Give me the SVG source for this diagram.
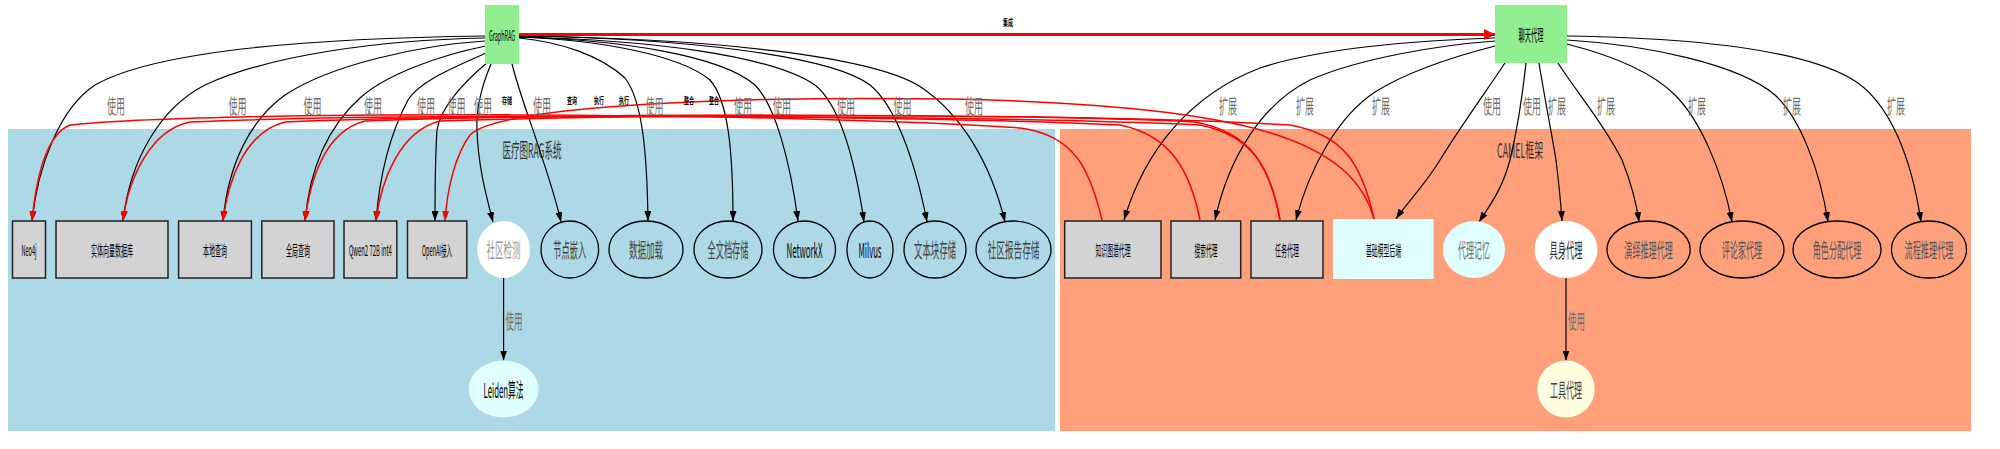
<svg xmlns="http://www.w3.org/2000/svg" width="2000" height="449" viewBox="0 0 2000 449">
<style>
text{font-family:"Noto Sans CJK SC","Liberation Sans",sans-serif;text-anchor:middle;dominant-baseline:central}
.box{fill:#D3D3D3;stroke:#222;stroke-width:1.5}
.ell{fill:none;stroke:#000;stroke-width:1.3}
.top{fill:#90EE90;stroke:none}
.bl{font-size:15px;fill:#000}
.el{font-size:20px;fill:#444}
.lab{font-size:20px;fill:#707070}
.sm{font-size:9px;font-weight:bold;fill:#000}
.cl{font-size:20px;fill:#333}
.e{fill:none;stroke:#000;stroke-width:1.2;marker-end:url(#ab)}
.r{fill:none;stroke:#f00;stroke-width:1.5;marker-end:url(#ar)}
</style>
<defs>
<marker id="ab" viewBox="0 0 10 7" refX="10" refY="3.5" markerWidth="10" markerHeight="7" markerUnits="userSpaceOnUse" orient="auto"><path d="M0,0 L10,3.5 L0,7 z" fill="#000"/></marker>
<marker id="ar" viewBox="0 0 10 7" refX="10" refY="3.5" markerWidth="10" markerHeight="7" markerUnits="userSpaceOnUse" orient="auto"><path d="M0,0 L10,3.5 L0,7 z" fill="#f00"/></marker>
<marker id="arb" viewBox="0 0 10 10" refX="10" refY="5" markerWidth="11" markerHeight="11" markerUnits="userSpaceOnUse" orient="auto"><path d="M0,0 L10,5 L0,10 z" fill="#f00"/></marker>
</defs>
<rect width="2000" height="449" fill="#fff"/>
<g id="cluster_medical">
<rect x="8" y="129" width="1047" height="302" fill="#ADD8E6"/>
<text class="cl" x="532" y="149" textLength="59" lengthAdjust="spacingAndGlyphs">医疗图RAG系统</text>
</g>
<g id="cluster_camel">
<rect x="1060" y="129" width="911" height="302" fill="#FFA07A"/>
<text class="cl" x="1520" y="149" textLength="46" lengthAdjust="spacingAndGlyphs">CAMEL框架</text>
</g>
<g id="connectors">
<path class="e" d="M485,36 C330,38 160,48 95,85 C60,108 38,165 32,221"/>
<path class="e" d="M485,38 C380,40 270,55 205,85 C160,108 130,160 123,221"/>
<path class="e" d="M485,41 C420,45 330,65 285,95 C250,120 228,165 223,221"/>
<path class="e" d="M486,46 C440,55 385,75 360,98 C330,125 310,165 305,221"/>
<path class="e" d="M488,52 C460,65 420,80 408,100 C392,130 380,170 376,221"/>
<path class="e" d="M488,62 C460,85 440,110 437,130 C435,160 435,190 435,221"/>
<path class="e" d="M491,64 C480,90 476,110 477,130 C478,165 486,195 493,222"/>
<path class="e" d="M512,64 C520,95 530,120 538,145 C546,170 555,195 561,222"/>
<path class="e" d="M519,38 C560,42 600,55 625,78 C642,100 647,150 648,221"/>
<path class="e" d="M519,37 C600,40 680,55 710,80 C728,100 733,150 733,221"/>
<path class="e" d="M519,37 C620,40 720,55 755,85 C775,105 790,160 798,221"/>
<path class="e" d="M519,37 C650,40 770,55 815,85 C840,105 855,160 864,222"/>
<path class="e" d="M519,36 C680,38 830,55 870,85 C895,105 915,160 927,222"/>
<path class="e" d="M519,36 C700,38 880,55 925,90 C960,115 990,160 1005,222"/>
<path class="e" d="M1495,38 C1420,40 1320,48 1260,68 C1190,95 1145,150 1124,220"/>
<path class="e" d="M1495,41 C1440,45 1360,58 1310,80 C1260,105 1228,160 1215,220"/>
<path class="e" d="M1495,46 C1460,55 1410,70 1375,92 C1340,115 1310,165 1296,220"/>
<path class="e" d="M1505,63 C1480,100 1455,135 1440,160 C1425,185 1405,205 1396,219"/>
<path class="e" d="M1526,63 C1522,100 1516,135 1510,160 C1502,190 1490,205 1479,222"/>
<path class="e" d="M1539,63 C1545,100 1552,135 1556,160 C1559,185 1561,205 1562,221"/>
<path class="e" d="M1558,63 C1575,90 1605,125 1622,160 C1630,180 1636,200 1639,222"/>
<path class="e" d="M1567,44 C1610,55 1650,70 1675,95 C1700,120 1722,170 1732,222"/>
<path class="e" d="M1567,40 C1650,45 1740,65 1775,95 C1800,118 1820,170 1828,222"/>
<path class="e" d="M1567,36 C1700,38 1800,50 1850,78 C1890,100 1912,160 1921,222"/>
<path class="e" d="M503.6,278 L503.6,360.5"/>
<path class="e" d="M1566,278 L1566,360.5"/>
<path class="r" d="M1102,220 C1090,170 1075,135 1020,128 C800,112 200,110 70,125 C45,135 36,180 32,221"/>
<path class="r" d="M1200,220 C1190,170 1170,135 1120,125 C900,115 400,113 190,122 C150,130 128,180 123,221"/>
<path class="r" d="M1280,220 C1270,165 1250,135 1200,125 C1000,116 500,113 285,122 C245,132 228,180 223,221"/>
<path class="r" d="M1280,220 C1270,165 1250,132 1195,122 C1000,113 600,113 365,121 C325,131 310,180 305,221"/>
<path class="r" d="M1374,219 C1362,165 1345,135 1290,125 C1100,114 700,113 440,121 C400,131 381,180 376,221"/>
<path class="r" d="M1374,219 C1352,140 1250,105 950,99 C720,96 500,106 470,135 C455,155 447,190 445,221"/>
<path d="M519,34.5 L1495,34.5" fill="none" stroke="#f00" stroke-width="3" marker-end="url(#arb)"/>
<text class="lab" x="116" y="105" textLength="18" lengthAdjust="spacingAndGlyphs">使用</text>
<text class="lab" x="237.5" y="105" textLength="18" lengthAdjust="spacingAndGlyphs">使用</text>
<text class="lab" x="312.5" y="105" textLength="18" lengthAdjust="spacingAndGlyphs">使用</text>
<text class="lab" x="373" y="105" textLength="18" lengthAdjust="spacingAndGlyphs">使用</text>
<text class="lab" x="426" y="105" textLength="18" lengthAdjust="spacingAndGlyphs">使用</text>
<text class="lab" x="456.5" y="105" textLength="18" lengthAdjust="spacingAndGlyphs">使用</text>
<text class="lab" x="483" y="105" textLength="18" lengthAdjust="spacingAndGlyphs">使用</text>
<text class="lab" x="542" y="105" textLength="18" lengthAdjust="spacingAndGlyphs">使用</text>
<text class="lab" x="654.5" y="105" textLength="18" lengthAdjust="spacingAndGlyphs">使用</text>
<text class="lab" x="743" y="105" textLength="18" lengthAdjust="spacingAndGlyphs">使用</text>
<text class="lab" x="782" y="105" textLength="18" lengthAdjust="spacingAndGlyphs">使用</text>
<text class="lab" x="846" y="105" textLength="18" lengthAdjust="spacingAndGlyphs">使用</text>
<text class="lab" x="902.5" y="105" textLength="18" lengthAdjust="spacingAndGlyphs">使用</text>
<text class="lab" x="974" y="105" textLength="18" lengthAdjust="spacingAndGlyphs">使用</text>
<text class="lab" x="1228" y="105" textLength="18" lengthAdjust="spacingAndGlyphs">扩展</text>
<text class="lab" x="1305" y="105" textLength="18" lengthAdjust="spacingAndGlyphs">扩展</text>
<text class="lab" x="1381" y="105" textLength="18" lengthAdjust="spacingAndGlyphs">扩展</text>
<text class="lab" x="1492" y="105" textLength="18" lengthAdjust="spacingAndGlyphs">使用</text>
<text class="lab" x="1532" y="105" textLength="18" lengthAdjust="spacingAndGlyphs">使用</text>
<text class="lab" x="1557" y="105" textLength="18" lengthAdjust="spacingAndGlyphs">扩展</text>
<text class="lab" x="1606" y="105" textLength="18" lengthAdjust="spacingAndGlyphs">扩展</text>
<text class="lab" x="1697" y="105" textLength="18" lengthAdjust="spacingAndGlyphs">扩展</text>
<text class="lab" x="1792" y="105" textLength="18" lengthAdjust="spacingAndGlyphs">扩展</text>
<text class="lab" x="1896" y="105" textLength="18" lengthAdjust="spacingAndGlyphs">扩展</text>
<text class="lab" x="514" y="320" textLength="17" lengthAdjust="spacingAndGlyphs">使用</text>
<text class="lab" x="1576.5" y="320" textLength="17" lengthAdjust="spacingAndGlyphs">使用</text>
<text class="sm" x="507" y="100" textLength="10" lengthAdjust="spacingAndGlyphs">存储</text>
<text class="sm" x="572" y="100" textLength="10" lengthAdjust="spacingAndGlyphs">查询</text>
<text class="sm" x="599" y="100" textLength="10" lengthAdjust="spacingAndGlyphs">执行</text>
<text class="sm" x="624" y="100" textLength="10" lengthAdjust="spacingAndGlyphs">执行</text>
<text class="sm" x="689" y="100" textLength="10" lengthAdjust="spacingAndGlyphs">整合</text>
<text class="sm" x="714" y="100" textLength="10" lengthAdjust="spacingAndGlyphs">整合</text>
<text class="sm" x="1008" y="22" textLength="10" lengthAdjust="spacingAndGlyphs">集成</text>
</g>
<g id="GraphRAG"><rect class="top" x="485" y="5" width="34" height="59"/><text x="502" y="34.5" style="font-size:14px" textLength="26" lengthAdjust="spacingAndGlyphs">GraphRAG</text></g>
<g id="聊天代理"><rect class="top" x="1495" y="5" width="72" height="58"/><text x="1531" y="34" style="font-size:16px" textLength="25" lengthAdjust="spacingAndGlyphs">聊天代理</text></g>
<g id="Neo4j"><rect class="box" x="12.5" y="221" width="33" height="57"/><text class="bl" x="29" y="249.5" textLength="15" lengthAdjust="spacingAndGlyphs">Neo4j</text></g>
<g id="实体向量数据库"><rect class="box" x="56" y="221" width="112" height="57"/><text class="bl" x="112" y="249.5" textLength="42" lengthAdjust="spacingAndGlyphs">实体向量数据库</text></g>
<g id="本地查询"><rect class="box" x="178.6" y="221" width="72.8" height="57"/><text class="bl" x="215" y="249.5" textLength="24" lengthAdjust="spacingAndGlyphs">本地查询</text></g>
<g id="全局查询"><rect class="box" x="261.8" y="221" width="72.2" height="57"/><text class="bl" x="298" y="249.5" textLength="24" lengthAdjust="spacingAndGlyphs">全局查询</text></g>
<g id="Qwen2"><rect class="box" x="344" y="221" width="52.8" height="57"/><text class="bl" x="370.4" y="249.5" textLength="43" lengthAdjust="spacingAndGlyphs">Qwen2 72B int4</text></g>
<g id="OpenAI接入"><rect class="box" x="407.5" y="221" width="59.3" height="57"/><text class="bl" x="437" y="249.5" textLength="30" lengthAdjust="spacingAndGlyphs">OpenAI接入</text></g>
<g id="社区检测"><ellipse cx="503.6" cy="249.5" rx="26.4" ry="28.5" fill="#fff"/><text class="el" x="503.6" y="249.5" style="fill:#999" textLength="34" lengthAdjust="spacingAndGlyphs">社区检测</text></g>
<g id="Leiden算法"><ellipse cx="503.6" cy="389" rx="35" ry="28.5" fill="#E0FFFF"/><text class="el" x="503.6" y="389" style="fill:#000" textLength="40" lengthAdjust="spacingAndGlyphs">Leiden算法</text></g>
<g id="节点嵌入"><ellipse class="ell" cx="569.8" cy="249.5" rx="28.8" ry="28.5"/><text class="el" x="569.8" y="249.5" textLength="33" lengthAdjust="spacingAndGlyphs">节点嵌入</text></g>
<g id="数据加载"><ellipse class="ell" cx="646" cy="249.5" rx="37" ry="28.5"/><text class="el" x="646" y="249.5" textLength="34" lengthAdjust="spacingAndGlyphs">数据加载</text></g>
<g id="全文档存储"><ellipse class="ell" cx="728" cy="249.5" rx="34" ry="28.5"/><text class="el" x="728" y="249.5" textLength="41" lengthAdjust="spacingAndGlyphs">全文档存储</text></g>
<g id="NetworkX"><ellipse class="ell" cx="804.5" cy="249.5" rx="31" ry="28.5"/><text class="el" x="804.5" y="249.5" style="fill:#000" textLength="36" lengthAdjust="spacingAndGlyphs">NetworkX</text></g>
<g id="Milvus"><ellipse class="ell" cx="870" cy="249.5" rx="23" ry="28.5"/><text class="el" x="870" y="249.5" style="fill:#000" textLength="23" lengthAdjust="spacingAndGlyphs">Milvus</text></g>
<g id="文本块存储"><ellipse class="ell" cx="935" cy="249.5" rx="31" ry="28.5"/><text class="el" x="935" y="249.5" textLength="42" lengthAdjust="spacingAndGlyphs">文本块存储</text></g>
<g id="社区报告存储"><ellipse class="ell" cx="1013.5" cy="249.5" rx="37.5" ry="28.5"/><text class="el" x="1013.5" y="249.5" textLength="52" lengthAdjust="spacingAndGlyphs">社区报告存储</text></g>
<g id="知识图谱代理"><rect class="box" x="1064.7" y="221" width="96.3" height="57"/><text class="bl" x="1113" y="249.5" textLength="35" lengthAdjust="spacingAndGlyphs">知识图谱代理</text></g>
<g id="搜索代理"><rect class="box" x="1171" y="221" width="69.7" height="57"/><text class="bl" x="1206" y="249.5" textLength="23" lengthAdjust="spacingAndGlyphs">搜索代理</text></g>
<g id="任务代理"><rect class="box" x="1251" y="221" width="72" height="57"/><text class="bl" x="1287" y="249.5" textLength="24" lengthAdjust="spacingAndGlyphs">任务代理</text></g>
<g id="基础模型后端"><rect x="1333" y="219" width="100.6" height="60" fill="#E0FFFF"/><text class="bl" x="1383.5" y="249.5" textLength="35" lengthAdjust="spacingAndGlyphs">基础模型后端</text></g>
<g id="代理记忆"><ellipse cx="1474" cy="249.5" rx="31" ry="28.5" fill="#E0FFFF"/><text class="el" x="1474" y="249.5" style="fill:#777" textLength="32" lengthAdjust="spacingAndGlyphs">代理记忆</text></g>
<g id="具身代理"><ellipse cx="1566" cy="249.5" rx="31.4" ry="28.5" fill="#fff"/><text class="el" x="1566" y="249.5" style="fill:#333" textLength="33" lengthAdjust="spacingAndGlyphs">具身代理</text></g>
<g id="工具代理"><ellipse cx="1566" cy="389" rx="28.7" ry="28.5" fill="#FFFFE0"/><text class="el" x="1566" y="389" textLength="32" lengthAdjust="spacingAndGlyphs">工具代理</text></g>
<g id="演绎推理代理"><ellipse class="ell" cx="1648.6" cy="249.5" rx="41.6" ry="28.5"/><text class="el" x="1648.6" y="249.5" style="fill:#555" textLength="48.5" lengthAdjust="spacingAndGlyphs">演绎推理代理</text></g>
<g id="评论家代理"><ellipse class="ell" cx="1742" cy="249.5" rx="42" ry="28.5"/><text class="el" x="1742" y="249.5" style="fill:#555" textLength="40" lengthAdjust="spacingAndGlyphs">评论家代理</text></g>
<g id="角色分配代理"><ellipse class="ell" cx="1837" cy="249.5" rx="44" ry="28.5"/><text class="el" x="1837" y="249.5" style="fill:#555" textLength="48.5" lengthAdjust="spacingAndGlyphs">角色分配代理</text></g>
<g id="流程推理代理"><ellipse class="ell" cx="1929" cy="249.5" rx="37.5" ry="28.5"/><text class="el" x="1929" y="249.5" style="fill:#555" textLength="49" lengthAdjust="spacingAndGlyphs">流程推理代理</text></g>
</svg>
